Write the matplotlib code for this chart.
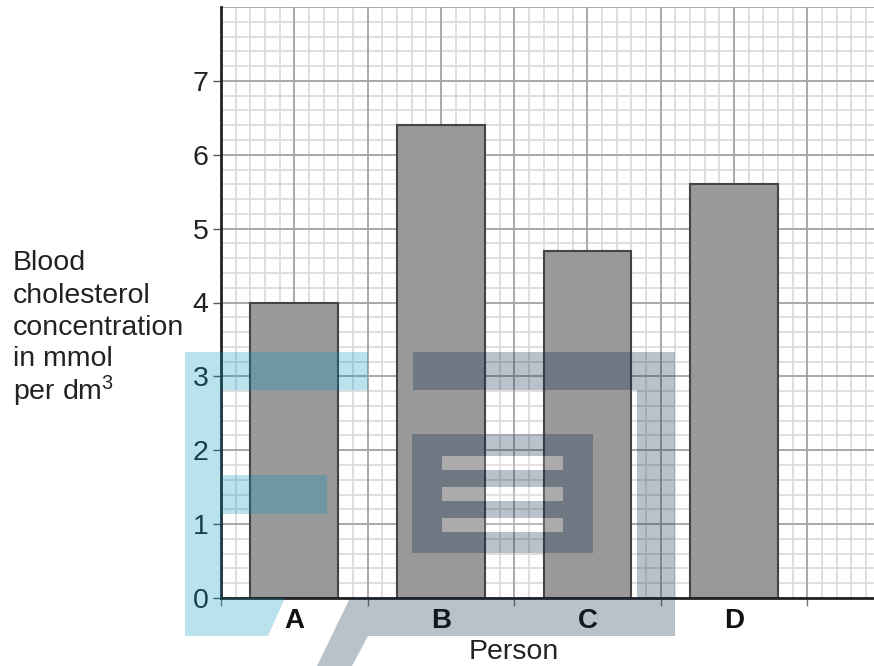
import numpy as np
import matplotlib
matplotlib.use("Agg")
import matplotlib.pyplot as plt
from matplotlib.patches import PathPatch, Polygon
from matplotlib.path import Path
from matplotlib.transforms import Affine2D

persons = ["A", "B", "C", "D"]
centres = [1, 3, 5, 7]
values = [4.0, 6.4, 4.7, 5.6]
y_ticks = [0, 1, 2, 3, 4, 5, 6, 7]
x_tick_marks = [0, 2, 4, 6, 8]
y_label_lines = ["Blood", "cholesterol", "concentration", "in mmol", "per dm$^{3}$"]
x_label = "Person"

plt.rcParams["font.family"] = ["Liberation Sans", "DejaVu Sans"]
plt.rcParams["mathtext.fontset"] = "custom"
plt.rcParams["mathtext.rm"] = "Liberation Sans"
plt.rcParams["mathtext.default"] = "rm"

W, H = 874, 666
fig = plt.figure(figsize=(W / 100, H / 100), dpi=100, facecolor="white")
ax = fig.add_axes([221 / W, 1 - 598 / H, (W - 221) / W, (598 - 7) / H])
xmax = (W - 221) / 73.3
ax.set_xlim(0, xmax)
ax.set_ylim(0, 8)

minor_x = np.arange(0, xmax, 0.2)
minor_y = np.arange(0, 8.01, 0.2)
major_x = np.arange(0, xmax, 1)
major_y = np.arange(0, 8.01, 1)
ax.vlines(minor_x, 0, 8, color="#dcdcdc", lw=1.3, zorder=1)
ax.hlines(minor_y, 0, xmax, color="#dcdcdc", lw=1.3, zorder=1)
ax.vlines(major_x, 0, 8, color="#a6a6a6", lw=1.3, zorder=1.5)
ax.hlines(major_y, 0, xmax, color="#a6a6a6", lw=1.3, zorder=1.5)

ax.bar(centres, values, width=1.2, color="#999999", edgecolor="#444444", lw=1.5, zorder=2)

for s in ("top", "right"):
    ax.spines[s].set_visible(False)
for s in ("left", "bottom"):
    ax.spines[s].set_linewidth(2)
    ax.spines[s].set_color("#222222")
    ax.spines[s].set_zorder(3)

ax.set_yticks(y_ticks)
ax.tick_params(axis="y", length=6, width=1, color="#555555", labelsize=20.5, pad=3, labelcolor="#222222")
ax.set_xticks(centres, persons, fontweight="bold")
ax.tick_params(axis="x", which="major", length=0, labelsize=20, pad=7, labelcolor="#111111")
ax.set_xticks(x_tick_marks, minor=True)
ax.tick_params(axis="x", which="minor", length=6, width=1, color="#777777")

px = Affine2D().scale(1 / W, -1 / H).translate(0, 1) + fig.transFigure
fig.text(514, 652, x_label, transform=px, ha="center", va="center", fontsize=20.5, color="#222222")
for line, y in zip(y_label_lines, [263, 296, 328, 359, 391]):
    fig.text(13, y, line, transform=px, ha="left", va="center", fontsize=20.5, color="#222222")

blue = [(185, 352), (368, 352), (368, 390), (222, 390), (222, 475), (327, 475), (327, 514), (222, 514),
        (222, 598), (285, 598), (268, 636), (185, 636)]
gray = [(413, 352), (675, 352), (675, 636), (368, 636), (352, 666), (317, 666), (350, 598), (637, 598),
        (637, 390), (413, 390)]
fig.add_artist(Polygon(blue, closed=True, transform=px, fc="#0094c0", ec="none", alpha=0.27, zorder=5))
fig.add_artist(Polygon(gray, closed=True, transform=px, fc="#0e2d4f", ec="none", alpha=0.29, zorder=5))


def rect(x0, y0, x1, y1):
    return [(x0, y0), (x1, y0), (x1, y1), (x0, y1), (x0, y0)]


holes = [(442, 456, 563, 470), (442, 487, 563, 501), (442, 518, 563, 532)]
verts, codes = [], []
for r, rev in [((412, 434, 593, 553), False)] + [(h, True) for h in holes]:
    v = rect(*r)
    v = v[::-1] if rev else v
    verts += v
    codes += [Path.MOVETO, Path.LINETO, Path.LINETO, Path.LINETO, Path.CLOSEPOLY]
fig.add_artist(PathPatch(Path(verts, codes), transform=px, fc="#0e2d4f", ec="none", alpha=0.29, zorder=5))
for h in holes:
    fig.add_artist(Polygon(rect(*h)[:-1], closed=True, transform=px, fc="white", ec="none", alpha=0.18, zorder=5))

fig.savefig("out.png", dpi=100)
